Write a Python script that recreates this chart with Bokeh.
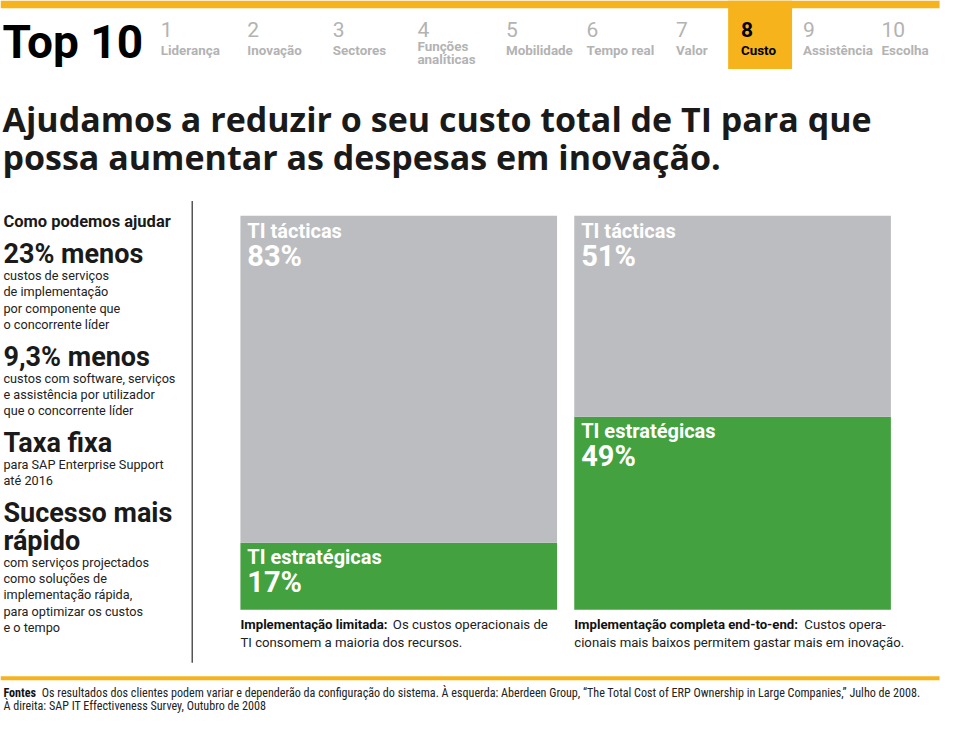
from bokeh.plotting import figure
from bokeh.models import Range1d, ColumnDataSource
from bokeh.core.properties import value
from bokeh.embed import file_html
from bokeh.resources import INLINE

# ---------------- data ----------------
nav_numbers = ["1", "2", "3", "4", "5", "6", "7", "8", "9", "10"]
nav_labels = ["Liderança", "Inovação", "Sectores", "Funções\nanalíticas", "Mobilidade",
              "Tempo real", "Valor", "Custo", "Assistência", "Escolha"]
active_index = 7

headline = ["Ajudamos a reduzir o seu custo total de TI para que",
            "possa aumentar as despesas em inovação."]

panel_title = "Como podemos ajudar"
benefit_heads = [["23% menos"], ["9,3% menos"], ["Taxa fixa"], ["Sucesso mais", "rápido"]]
benefit_bodies = [
    ["custos de serviços", "de implementação", "por componente que", "o concorrente líder"],
    ["custos com software, serviços", "e assistência por utilizador", "que o concorrente líder"],
    ["para SAP Enterprise Support", "até 2016"],
    ["com serviços projectados", "como soluções de", "implementação rápida,",
     "para optimizar os custos", "e o tempo"],
]

tactical_label = "TI tácticas"
strategic_label = "TI estratégicas"
tactical_pct = [83, 51]
strategic_pct = [17, 49]
scenario_heads = ["Implementação limitada:", "Implementação completa end-to-end:"]
scenario_notes = [["Os custos operacionais de", "TI consomem a maioria dos recursos."],
                  ["Custos opera-", "cionais mais baixos permitem gastar mais em inovação."]]

footer_head = "Fontes"
footer_lines = ["Os resultados dos clientes podem variar e dependerão da configuração do sistema. "
                "À esquerda: Aberdeen Group, “The Total Cost of ERP Ownership in Large Companies,” Julho de 2008.",
                "À direita: SAP IT Effectiveness Survey, Outubro de 2008"]

# ---------------- style ----------------
YELLOW = "#F6B31B"
GRAY_BAR = "#BCBDC0"
GREEN = "#43A140"
NAV_GRAY = "#B3B3B3"
INK = "#1A1A1A"
FONT = "Roboto"
HEAD_FONT = "Open Sans"
NARROW = "Liberation Sans Narrow, Roboto Condensed, DejaVu Sans Condensed, Roboto"

W, H = 959, 730
p = figure(width=943, height=714, x_range=Range1d(0, W), y_range=Range1d(H, 0),
           output_backend="svg", toolbar_location=None, min_border=0)
p.axis.visible = False
p.grid.visible = False
p.outline_line_color = None
p.background_fill_color = "white"

BAR_TOP, BAR_BOTTOM = 220.0, 623.0
span = (BAR_BOTTOM - BAR_TOP) / 100.0
p.extra_y_ranges = {"pct": Range1d(start=(BAR_BOTTOM - H) / span, end=BAR_BOTTOM / span)}


def txt(xs, ys, texts, size, bold=False, color=INK, font=FONT, align="left",
        baseline="middle", y_range_name="default", y_offset=0):
    src = ColumnDataSource(dict(x=list(xs), y=list(ys), text=list(texts)))
    p.text(x="x", y="y", text="text", source=src, text_font=value(font),
           text_font_size=f"{size}px", text_font_style="bold" if bold else "normal",
           text_color=color, text_align=align, text_baseline=baseline,
           y_range_name=y_range_name, y_offset=y_offset)


# top band + nav
p.quad(left=[0], right=[955], top=[0], bottom=[8], color=YELLOW, line_color=None)
nav_x = [163, 251, 338, 424, 514, 596, 687, 753, 816, 896]
p.quad(left=[nav_x[active_index] - 13], right=[nav_x[active_index] + 52], top=[0], bottom=[70],
       color=YELLOW, line_color=None)
txt([2], [42], ["Top 10"], 46, bold=True, color="black")
cols = ["black" if i == active_index else NAV_GRAY for i in range(len(nav_numbers))]
for i in range(len(nav_numbers)):
    txt([nav_x[i]], [30], [nav_numbers[i]], 21, bold=(i == active_index), color=cols[i])
    lines = nav_labels[i].split("\n")
    if len(lines) == 1:
        txt([nav_x[i]], [51], lines, 13.4, bold=True, color=cols[i])
    else:
        txt([nav_x[i]] * 2, [47, 60], lines, 13.4, bold=True, color=cols[i])

# headline
txt([2, 2], [121, 160], headline, 34, bold=True, color=INK, font=HEAD_FONT)

# left panel
txt([3], [226], [panel_title], 16.5, bold=True)
y = 259
for heads, body in zip(benefit_heads, benefit_bodies):
    for k, h in enumerate(heads):
        txt([3], [y], [h], 27, bold=True)
        if k < len(heads) - 1:
            y += 28
    y += 22
    for k, line in enumerate(body):
        txt([3], [y], [line], 12.7, color="#222222")
        if k < len(body) - 1:
            y += 16.7
    y += 33

p.segment(x0=[195], y0=[205], x1=[195], y1=[677], line_color="#555555", line_width=1.5)

# bars
bar_x = [405, 744.5]
p.vbar(x=bar_x, width=322, bottom=0, top=strategic_pct, color=GREEN, line_color=None,
       y_range_name="pct")
p.vbar(x=bar_x, width=322, bottom=strategic_pct, top=[s + t for s, t in zip(strategic_pct, tactical_pct)],
       color=GRAY_BAR, line_color=None, y_range_name="pct")

lab_x = [bx - 154 for bx in bar_x]
tops = [s + t for s, t in zip(strategic_pct, tactical_pct)]
txt(lab_x, tops, [tactical_label] * 2, 20, bold=True, color="white", y_range_name="pct", y_offset=15)
txt(lab_x, tops, [f"{v}%" for v in tactical_pct], 29, bold=True, color="white", y_range_name="pct", y_offset=40)
txt(lab_x, strategic_pct, [strategic_label] * 2, 20, bold=True, color="white", y_range_name="pct", y_offset=14)
txt(lab_x, strategic_pct, [f"{v}%" for v in strategic_pct], 29, bold=True, color="white", y_range_name="pct", y_offset=39)

# captions
cap_x = [bx - 161 for bx in bar_x]
head_w = [155, 234]
for i in range(2):
    txt([cap_x[i]], [638], [scenario_heads[i]], 13.2, bold=True, color="#111111")
    txt([cap_x[i] + head_w[i]], [638], [scenario_notes[i][0]], 13.2, color="#222222")
    txt([cap_x[i]], [656], [scenario_notes[i][1]], 13.2, color="#222222")

# footer
p.quad(left=[0], right=[955], top=[691], bottom=[695], color=YELLOW, line_color=None)
txt([3], [708], [footer_head], 12.1, bold=True, font=NARROW, color="#111111")
txt([42], [708], [footer_lines[0]], 12.1, font=NARROW, color="#222222")
txt([3], [721], [footer_lines[1]], 12.1, font=NARROW, color="#222222")

open("out.html", "w").write(file_html(p, INLINE))
